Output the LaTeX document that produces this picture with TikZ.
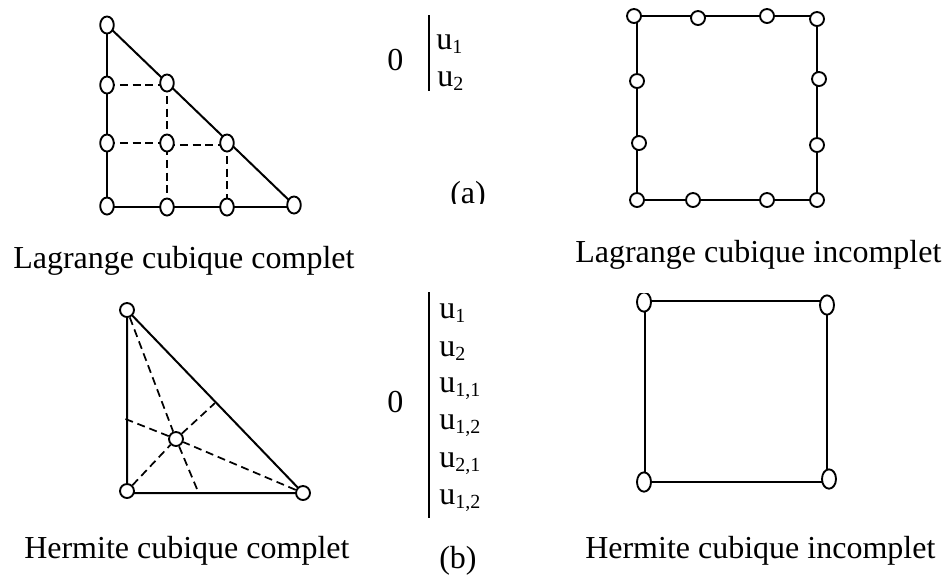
\documentclass[tikz,border=0pt]{standalone}
\usepackage{fontspec}
\setmainfont{Liberation Serif}
\usetikzlibrary{shapes.geometric,backgrounds}
\newcommand{\ui}[1]{u\raisebox{-0.14em}{\fontsize{15}{15}\selectfont #1}}
\tikzset{
  nd/.style={ellipse,draw=black,fill=white,line width=1.4pt,inner sep=0pt,minimum width=10.2pt,minimum height=12.8pt},
  ndround/.style={nd,minimum width=10.5pt,minimum height=10.5pt},
  ndtall/.style={nd,minimum width=10.5pt,minimum height=14.5pt},
  edge/.style={draw=black,line width=1.5pt},
  dsh/.style={draw=black,line width=1.3pt,dash pattern=on 6pt off 3.6pt},
  bar/.style={draw=black,line width=1.3pt},
  lab/.style={anchor=base west,inner sep=0pt,font=\fontsize{24}{28}\selectfont}
}
\begin{document}
\begin{tikzpicture}[x=0.75pt,y=-0.75pt]
\useasboundingbox (0,0) rectangle (946,576);
% Lagrange complete triangle
\node[nd] (a1) at (107,25) {};
\node[nd] (a2) at (107,85) {};
\node[nd] (a3) at (107,143) {};
\node[nd] (a4) at (107,206) {};
\node[nd] (b1) at (167,83) {};
\node[nd] (b2) at (167,143) {};
\node[nd] (b3) at (167,207) {};
\node[nd] (c1) at (227,143) {};
\node[nd] (c2) at (227,207) {};
\node[nd] (d1) at (294,205) {};
\coordinate (m1) at (167,145);
\coordinate (m2) at (227,145);
\begin{scope}[on background layer]
\draw[edge] (a1.center)--(a4.center |- b3.center)--(d1.center |- b3.center);
\draw[edge] (a1.center)--(d1.center);
\draw[dsh] (a2.center)--(a2.center -| b1.center);
\draw[dsh] (a3.center)--(b2.center);
\draw[dsh] (m1)--(m2);
\draw[dsh] (b1.center)--(b3.center);
\draw[dsh] (c1.center)--(c2.center);
\end{scope}
% Lagrange incomplete square
\node[ndround] (s1) at (634,16) {};
\node[ndround] (s2) at (698,18) {};
\node[ndround] (s3) at (767,16) {};
\node[ndround] (s4) at (817,19) {};
\node[ndround] (s5) at (637,81) {};
\node[ndround] (s6) at (819,79) {};
\node[ndround] (s7) at (639,143) {};
\node[ndround] (s8) at (817,145) {};
\node[ndround] (s9) at (637,200) {};
\node[ndround] (s10) at (693,200) {};
\node[ndround] (s11) at (767,200) {};
\node[ndround] (s12) at (817,200) {};
\begin{scope}[on background layer]
\draw[edge] (s9.center)--(s12.center)--(s12.center |- s1.center)--(s9.center |- s1.center)--cycle;
\end{scope}
% Hermite complete triangle
\node[ndround] (h1) at (127,310) {};
\node[ndround] (h2) at (127,491) {};
\node[ndround] (h3) at (303,493) {};
\node[ndround] (hc) at (176,439) {};
\coordinate (e1) at (123,418);
\coordinate (e2) at (215,403);
\coordinate (e3) at (197,489);
\begin{scope}[on background layer]
\draw[edge] (h1.center)--(h2.center |- h3.center)--(h3.center)--cycle;
\draw[dsh] (h1)--(hc) (hc)--(e3) (h3)--(hc) (hc)--(e1) (h2)--(hc) (hc)--(e2);
\end{scope}
% Hermite incomplete square
\node[ndtall] (q1) at (644,302) {};
\node[ndtall] (q2) at (827,305) {};
\node[ndtall] (q3) at (644,482) {};
\node[ndtall] (q4) at (829,479) {};
\coordinate (k1) at (645,301);
\coordinate (k2) at (827,301);
\coordinate (k3) at (827,482);
\coordinate (k4) at (645,482);
\begin{scope}[on background layer]
\draw[edge] (k1)--(k2)--(k3)--(k4)--cycle;
\end{scope}
\fill[white] (630,285) rectangle (660,293);
% Upper column
\node[lab] (z1) at (387,70) {0};
\coordinate (t1) at (429,15);
\coordinate (t2) at (429,91);
\draw[bar] (t1)--(t2);
\node[lab] (u1) at (436,49) {\ui{1}};
\node[lab] (u2) at (437,86) {\ui{2}};
\node[lab] (la) at (450,203) {(a)};
\fill[white] (440,204) rectangle (490,215);
% Lower column
\node[lab] (z2) at (387,412) {0};
\coordinate (t3) at (429,292);
\coordinate (t4) at (429,518);
\draw[bar] (t3)--(t4);
\node[lab] (v1) at (439,318) {\ui{1}};
\node[lab] (v2) at (439,356) {\ui{2}};
\node[lab] (v3) at (439,392) {\ui{1,1}};
\node[lab] (v4) at (439,429) {\ui{1,2}};
\node[lab] (v5) at (439,467) {\ui{2,1}};
\node[lab] (v6) at (439,504) {\ui{1,2}};
\node[lab] (lb) at (439,568) {(b)};
% Captions
\node[lab] (c1t) at (13,268) {Lagrange cubique complet};
\node[lab] (c2t) at (575,262) {Lagrange cubique incomplet};
\node[lab] (c3t) at (24,558) {Hermite cubique complet};
\node[lab] (c4t) at (585,558) {Hermite cubique incomplet};
\end{tikzpicture}
\end{document}
